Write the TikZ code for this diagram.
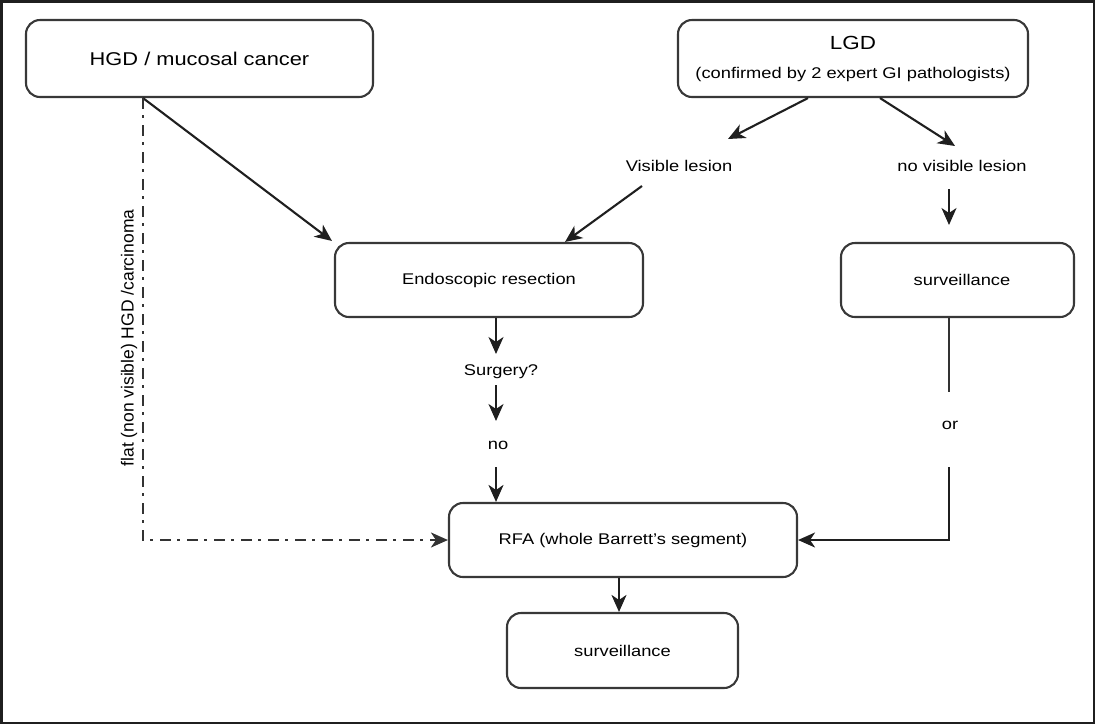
\documentclass[tikz,border=0pt]{standalone}
\usepackage{fontspec}
\setmainfont{Liberation Sans}[FakeStretch=1.18]
\newfontfamily\rotfont{Liberation Sans}
\usetikzlibrary{arrows.meta,calc}
\begin{document}
\begin{tikzpicture}[x=1pt,y=-1pt,
  box/.style={draw=black!78, line width=2.1pt, rounded corners=14pt, align=center, inner sep=0pt, font=\fontsize{15.5}{18}\selectfont},
  lbl/.style={inner sep=1pt, font=\fontsize{15.5}{18}\selectfont},
  tip/.style={-{Stealth[length=17pt,width=15pt,inset=5pt]}},
  arr/.style={draw=black!88, line width=2.1pt, tip},
  ln/.style={draw=black!80, line width=2.1pt},
  dashdot/.style={draw=black!80, line width=2.3pt, dash pattern=on 11pt off 6pt on 3pt off 7pt}
]
\useasboundingbox (0,0) rectangle (1095,724);
\draw[draw=black!88, line width=2.5pt] (1.25,1.25) rectangle (1093.75,722.75);

% boxes
\node[box, minimum width=347pt, minimum height=77pt, font=\fontsize{18.5}{22}\selectfont] (hgd) at (199.5,58.5) {HGD / mucosal cancer};
\node[box, minimum width=350pt, minimum height=77pt, font=\fontsize{15.5}{22}\selectfont] (lgd) at (853,58.5) {{\fontsize{19}{22}\selectfont LGD}\\[7pt](confirmed by 2 expert GI pathologists)};
\node[box, minimum width=308pt, minimum height=74pt] (endo) at (489,280) {\raisebox{-4pt}{Endoscopic resection}};
\node[box, minimum width=233pt, minimum height=74pt] (survr) at (957.5,280) {\raisebox{-3pt}{\hspace*{9pt}surveillance}};
\node[box, minimum width=348pt, minimum height=74pt] (rfa) at (623,540) {\raisebox{-2pt}{RFA (whole Barrett’s segment)}};
\node[box, minimum width=231pt, minimum height=75pt] (survb) at (622.5,650.5) {surveillance};

% labels
\node[lbl] (vis) at (679,166) {Visible lesion};
\node[lbl] (novis) at (962,166) {no visible lesion};
\node[lbl] (surg) at (501,372) {Surgery?};
\node[lbl] (no) at (498,445) {no};
\node[lbl] (or) at (950,425) {or};
\node[rotate=90, inner sep=0pt, font=\rotfont\fontsize{17.5}{20}\selectfont] (flat) at (129,338) {flat (non visible) HGD /carcinoma};

% coordinates
\coordinate (vtip) at (728,139);
\coordinate (ntip) at (955,146);
\coordinate (vsrc) at (642,186);
\coordinate (nsrc) at (949,189);
\coordinate (ndst) at (949,225);
\coordinate (s1) at (496,354);
\coordinate (s2) at (496,385);
\coordinate (s3) at (496,421);
\coordinate (s4) at (496,467);
\coordinate (or1) at (949,392);
\coordinate (or2) at (949,467);

% connectors
\draw[arr] ([xshift=-56.5pt]hgd.south) -- ([xshift=-2pt,yshift=1pt]endo.north west);
\draw[dashdot, tip] ([xshift=-56.5pt]hgd.south) |- (rfa.west);
\draw[arr] ([xshift=-45pt]lgd.south) -- (vtip);
\draw[arr] ([xshift=27pt]lgd.south) -- (ntip);
\draw[arr] (vsrc) -- ([xshift=76pt]endo.north);
\draw[arr] (nsrc) -- (ndst);
\draw[arr] ([xshift=7pt]endo.south) -- (s1);
\draw[arr] (s2) -- (s3);
\draw[arr] (s4) -- ([xshift=-127pt]rfa.north);
\draw[ln] ([xshift=-8.5pt]survr.south) -- (or1);
\draw[arr] (or2) |- (rfa.east);
\draw[arr] ([xshift=-4pt]rfa.south) -- ([xshift=-3.5pt]survb.north);
\end{tikzpicture}
\end{document}
